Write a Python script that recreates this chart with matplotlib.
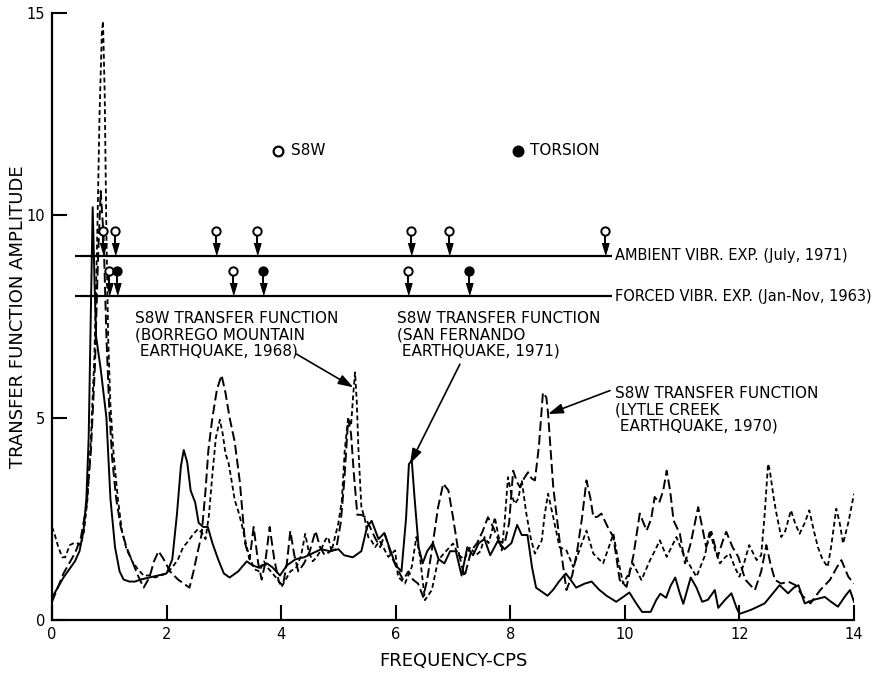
import matplotlib
matplotlib.use("Agg")
import matplotlib.pyplot as plt

plt.rcParams['font.family'] = ['DejaVu Sans']
plt.rcParams['lines.scale_dashes'] = False

# --- S8W transfer function, San Fernando earthquake 1971 (solid) ---
sf_x = [0.0, 0.1, 0.2, 0.3, 0.4, 0.48, 0.55, 0.6, 0.64, 0.67, 0.71, 0.74, 0.77, 0.85, 0.95,
        1.02, 1.1, 1.18, 1.25, 1.35, 1.45, 1.55, 1.7, 1.85, 2.0, 2.1, 2.18, 2.25, 2.3, 2.36,
        2.42, 2.5, 2.56, 2.64, 2.72, 2.8, 2.9, 3.0, 3.1, 3.25, 3.4, 3.5, 3.6, 3.75, 3.85,
        3.98, 4.1, 4.25, 4.4, 4.55, 4.7, 4.85, 5.0, 5.1, 5.25, 5.4, 5.5, 5.58, 5.7, 5.8,
        5.9, 6.0, 6.1, 6.18, 6.23, 6.28, 6.33, 6.4, 6.47, 6.55, 6.65, 6.75, 6.85, 6.95, 7.05,
        7.15, 7.25, 7.35, 7.45, 7.55, 7.65, 7.78, 7.9, 8.02, 8.12, 8.2, 8.3, 8.38, 8.45, 8.55,
        8.65, 8.75, 8.85, 8.97, 9.05, 9.15, 9.3, 9.42, 9.55, 9.68, 9.85, 9.95, 10.08, 10.18, 10.3,
        10.45, 10.55, 10.62, 10.72, 10.8, 10.88, 10.95, 11.02, 11.1, 11.15, 11.25, 11.35, 11.45, 11.57, 11.63,
        11.75, 11.86, 11.95, 12.0, 12.2, 12.44, 12.58, 12.7, 12.85, 12.95, 13.03, 13.14, 13.3, 13.49, 13.6,
        13.72, 13.85, 13.93, 14.0]
sf_y = [0.55, 0.8, 1.05, 1.25, 1.45, 1.7, 2.2, 3.0, 4.5, 7.0, 10.2, 8.5, 7.0, 6.2, 5.0,
        3.0, 1.8, 1.2, 1.0, 0.95, 0.95, 1.0, 1.05, 1.1, 1.15, 1.5, 2.6, 3.8, 4.2, 3.9,
        3.2, 2.9, 2.4, 2.3, 2.3, 1.9, 1.5, 1.15, 1.05, 1.2, 1.45, 1.35, 1.3, 1.4, 1.3,
        1.1, 1.35, 1.5, 1.55, 1.65, 1.75, 1.7, 1.75, 1.6, 1.55, 1.7, 2.3, 2.45, 2.0, 2.15,
        1.75, 1.35, 1.2, 2.5, 3.85, 3.95, 3.0, 1.8, 1.4, 1.7, 1.9, 1.5, 1.4, 1.7, 1.7,
        1.1, 1.8, 1.6, 1.9, 2.0, 1.6, 1.95, 1.75, 1.9, 2.35, 2.1, 2.1, 1.3, 0.8, 0.7,
        0.6, 0.75, 0.95, 1.15, 1.0, 0.8, 0.9, 0.95, 0.75, 0.6, 0.45, 0.55, 0.68, 0.45, 0.2,
        0.2, 0.5, 0.65, 0.55, 0.85, 1.05, 0.7, 0.4, 0.8, 1.05, 0.8, 0.45, 0.5, 0.74, 0.3,
        0.5, 0.66, 0.3, 0.15, 0.25, 0.41, 0.65, 0.86, 0.66, 0.8, 0.86, 0.41, 0.5, 0.57, 0.45,
        0.33, 0.6, 0.74, 0.45]

# --- S8W transfer function, Lytle Creek earthquake 1970 (long dashes) ---
lc_x = [0.0, 0.1, 0.2, 0.3, 0.4, 0.5, 0.6, 0.68, 0.75, 0.8, 0.85, 0.9, 0.95, 1.0, 1.05,
        1.12, 1.2, 1.3, 1.4, 1.5, 1.6, 1.7, 1.78, 1.86, 1.95, 2.06, 2.2, 2.3, 2.4, 2.47,
        2.53, 2.61, 2.68, 2.73, 2.8, 2.88, 2.96, 3.03, 3.1, 3.19, 3.28, 3.37, 3.45, 3.52, 3.6,
        3.66, 3.72, 3.8, 3.88, 3.96, 4.03, 4.1, 4.16, 4.23, 4.3, 4.4, 4.5, 4.6, 4.68, 4.76,
        4.86, 4.96, 5.04, 5.1, 5.17, 5.22, 5.27, 5.33, 5.4, 5.46, 5.55, 5.65, 5.73, 5.81, 5.93,
        6.04, 6.13, 6.22, 6.3, 6.39, 6.48, 6.55, 6.63, 6.74, 6.83, 6.92, 7.0, 7.09, 7.2, 7.32,
        7.42, 7.52, 7.61, 7.7, 7.8, 7.9, 7.98, 8.05, 8.12, 8.17, 8.24, 8.31, 8.37, 8.43, 8.5,
        8.57, 8.63, 8.66, 8.75, 8.86, 8.98, 9.08, 9.16, 9.25, 9.33, 9.4, 9.45, 9.52, 9.59, 9.7,
        9.8, 9.91, 10.03, 10.15, 10.26, 10.38, 10.46, 10.52, 10.6, 10.67, 10.73, 10.79, 10.85, 10.96, 11.05,
        11.15, 11.28, 11.42, 11.51, 11.62, 11.72, 11.77, 11.88, 11.98, 12.1, 12.27, 12.38, 12.47, 12.54, 12.62,
        12.73, 12.85, 12.98, 13.1, 13.24, 13.41, 13.58, 13.7, 13.78, 13.9, 14.0]
lc_y = [0.45, 0.8, 1.15, 1.4, 1.65, 2.0, 2.8, 4.2, 6.3, 8.8, 10.6, 9.5, 7.0, 5.2, 4.0,
        3.0, 2.3, 1.8, 1.45, 1.1, 0.8, 1.05, 1.45, 1.7, 1.5, 1.2, 1.0, 0.9, 0.8, 1.2,
        1.6, 2.1, 3.2, 4.2, 5.0, 5.7, 6.05, 5.6, 5.0, 4.4, 3.4, 1.9, 1.5, 2.3, 1.4,
        1.0, 1.4, 2.3, 1.5, 0.95, 0.85, 1.4, 2.2, 1.6, 1.2, 1.4, 1.7, 2.2, 1.8, 1.6,
        1.7, 1.75, 2.4, 3.4, 4.97, 4.6, 3.6, 2.6, 2.6, 2.55, 2.3, 2.0, 1.8, 2.13, 1.56,
        1.23, 0.99, 1.2, 1.0, 0.9, 0.57, 1.0, 1.72, 2.79, 3.37, 3.2, 2.54, 1.72, 1.07, 1.72,
        1.9, 2.2, 2.54, 2.3, 1.95, 1.89, 2.4, 3.69, 3.4, 3.28, 3.5, 3.65, 3.5, 3.45, 4.3,
        5.62, 5.5, 5.09, 3.28, 1.97, 0.74, 1.1, 1.64, 2.5, 3.45, 3.0, 2.54, 2.55, 2.63, 2.3,
        2.05, 0.99, 0.82, 1.6, 2.63, 2.21, 2.5, 3.04, 2.9, 3.2, 3.69, 3.2, 2.46, 2.13, 1.4,
        1.9, 2.79, 1.8, 2.18, 1.56, 2.0, 2.18, 1.8, 1.56, 1.0, 0.74, 1.2, 1.85, 1.4, 0.99,
        0.9, 0.95, 0.86, 0.6, 0.41, 0.74, 0.99, 1.3, 1.48, 1.07, 0.9]

# --- S8W transfer function, Borrego Mountain earthquake 1968 (short dashes) ---
bm_x = [0.0, 0.05, 0.11, 0.18, 0.23, 0.31, 0.38, 0.43, 0.5, 0.56, 0.62, 0.68, 0.74, 0.79, 0.83,
        0.87, 0.89, 0.92, 0.95, 0.98, 1.02, 1.08, 1.15, 1.22, 1.3, 1.4, 1.5, 1.6, 1.7, 1.8,
        1.9, 2.0, 2.1, 2.2, 2.29, 2.38, 2.47, 2.55, 2.62, 2.68, 2.74, 2.8, 2.86, 2.93, 2.98,
        3.03, 3.08, 3.14, 3.19, 3.25, 3.31, 3.4, 3.46, 3.54, 3.62, 3.7, 3.76, 3.85, 3.94, 4.01,
        4.08, 4.16, 4.27, 4.35, 4.42, 4.48, 4.55, 4.62, 4.7, 4.78, 4.82, 4.88, 4.94, 5.0, 5.06,
        5.11, 5.17, 5.22, 5.26, 5.29, 5.32, 5.35, 5.4, 5.46, 5.52, 5.58, 5.64, 5.72, 5.8, 5.87,
        5.99, 6.04, 6.16, 6.28, 6.36, 6.42, 6.51, 6.63, 6.74, 6.89, 7.0, 7.1, 7.2, 7.3, 7.4,
        7.48, 7.55, 7.62, 7.68, 7.73, 7.79, 7.85, 7.9, 7.96, 8.02, 8.08, 8.14, 8.2, 8.28, 8.36,
        8.43, 8.55, 8.6, 8.66, 8.75, 8.86, 8.98, 9.1, 9.2, 9.33, 9.45, 9.62, 9.72, 9.8, 9.88,
        9.97, 10.05, 10.14, 10.29, 10.44, 10.52, 10.61, 10.73, 10.9, 11.0, 11.08, 11.25, 11.4, 11.48, 11.58,
        11.66, 11.75, 11.83, 11.92, 12.0, 12.08, 12.17, 12.3, 12.38, 12.44, 12.5, 12.53, 12.6, 12.65, 12.73,
        12.8, 12.9, 12.97, 13.05, 13.14, 13.22, 13.3, 13.37, 13.45, 13.54, 13.6, 13.69, 13.75, 13.81, 13.9,
        14.0]
bm_y = [2.3, 2.1, 1.8, 1.55, 1.55, 1.85, 1.9, 1.9, 1.85, 2.2, 3.0, 4.5, 6.5, 9.5, 12.5,
        14.5, 14.8, 13.0, 9.5, 7.0, 5.3, 4.0, 3.0, 2.2, 1.75, 1.45, 1.25, 1.1, 1.1, 1.05,
        1.1, 1.15, 1.3, 1.5, 1.8, 1.95, 2.13, 2.25, 2.15, 2.0, 2.6, 3.6, 4.5, 4.95, 4.6,
        4.1, 3.9, 3.4, 2.96, 2.7, 2.38, 1.8, 1.5, 1.25, 1.2, 1.45, 1.3, 1.15, 1.0, 0.82,
        1.0, 1.2, 1.31, 1.6, 2.13, 1.7, 1.45, 1.55, 1.75, 2.0, 2.05, 1.7, 2.05, 2.4, 2.96,
        4.19, 5.0, 4.8, 5.6, 6.12, 5.4, 4.19, 2.8, 2.5, 2.05, 1.95, 1.8, 1.95, 1.75, 1.56,
        1.72, 1.07, 0.9, 1.31, 2.05, 1.6, 0.49, 0.74, 1.48, 1.72, 1.89, 1.6, 1.5, 1.8, 1.6,
        1.7, 2.05, 1.9, 2.2, 2.54, 2.1, 1.72, 2.4, 3.53, 3.1, 2.87, 3.0, 3.45, 2.63, 2.0,
        1.64, 1.97, 2.6, 3.12, 2.54, 1.8, 1.72, 1.31, 1.7, 2.21, 1.64, 1.4, 1.8, 2.13, 1.5,
        0.9, 1.1, 1.4, 0.99, 1.48, 1.7, 1.97, 1.56, 2.05, 1.7, 1.48, 1.07, 1.6, 2.21, 1.7,
        1.4, 1.55, 1.64, 1.3, 1.07, 1.4, 1.85, 1.48, 1.6, 2.6, 3.86, 3.7, 3.0, 2.6, 2.05,
        2.2, 2.71, 2.4, 2.13, 2.4, 2.71, 2.2, 1.8, 1.5, 1.31, 1.8, 2.75, 2.4, 1.89, 2.4,
        3.12]

# Natural frequencies from vibration experiments
ambient_level = 9.0
forced_level = 8.0
exp_line_span = (0.4, 9.77)
ambient_s8w = [0.89, 1.1, 2.86, 3.58, 6.27, 6.93, 9.65]
forced_s8w = [1.0, 3.16, 6.21]
forced_torsion = [1.13, 3.68, 7.28]

x_ticks = [0, 2, 4, 6, 8, 10, 12, 14]
y_ticks = [0, 5, 10, 15]

fig = plt.figure(figsize=(8.79, 6.74), dpi=100)
ax = fig.add_axes([52 / 879, 54 / 674, 802 / 879, 607 / 674])
ax.set_xlim(0, 14)
ax.set_ylim(0, 15)
for side in ['top', 'right']:
    ax.spines[side].set_visible(False)
for side in ['left', 'bottom']:
    ax.spines[side].set_linewidth(1.6)
ax.set_xticks(x_ticks)
ax.set_yticks(y_ticks)
ax.tick_params(direction='in', length=11, width=1.5, labelsize=10.5, pad=5)

ax.set_xlabel('FREQUENCY-CPS', fontsize=13, va='center')
ax.xaxis.set_label_coords(0.5, -0.068)
ax.set_ylabel('TRANSFER FUNCTION AMPLITUDE', fontsize=13)
ax.yaxis.set_label_coords(-0.031, 0.5)

ax.plot(sf_x, sf_y, color='k', lw=1.4, solid_joinstyle='round')
ax.plot(lc_x, lc_y, color='k', lw=1.4, dashes=(7, 3))
ax.plot(bm_x, bm_y, color='k', lw=1.3, dashes=(3.5, 2.2))

# Experiment reference lines
ax.hlines([ambient_level, forced_level], exp_line_span[0], exp_line_span[1],
          color='k', lw=1.6)

arrow_marker = [(-0.3, 0.5), (0.3, 0.5), (0.0, -0.5)]


def freq_markers(xs, level, filled):
    ax.vlines(xs, level + 0.28, level + 0.54, color='k', lw=1.4)
    ax.plot(xs, [level + 0.17] * len(xs), ls='none', marker=arrow_marker,
            ms=8.6, mfc='k', mec='k', mew=0.8)
    ax.plot(xs, [level + 0.62] * len(xs), ls='none', marker='o', ms=6,
            mfc='k' if filled else 'w', mec='k', mew=1.4)


freq_markers(ambient_s8w, ambient_level, False)
freq_markers(forced_s8w, forced_level, False)
freq_markers(forced_torsion, forced_level, True)

ax.text(exp_line_span[1] + 0.05, ambient_level, 'AMBIENT VIBR. EXP. (July, 1971)',
        va='center', ha='left', fontsize=10.5)
ax.text(exp_line_span[1] + 0.05, forced_level, 'FORCED VIBR. EXP. (Jan-Nov, 1963)',
        va='center', ha='left', fontsize=10.5)

# Symbol key
ax.plot([3.95], [11.6], ls='none', marker='o', ms=7, mfc='w', mec='k', mew=1.6)
ax.text(4.17, 11.6, 'S8W', va='center', ha='left', fontsize=11)
ax.plot([8.13], [11.6], ls='none', marker='o', ms=7, mfc='k', mec='k', mew=1.6)
ax.text(8.35, 11.6, 'TORSION', va='center', ha='left', fontsize=11)

# Curve callouts
arrow_kw = dict(arrowstyle='-|>,head_length=0.9,head_width=0.3', color='k', lw=1.2,
                shrinkA=0, shrinkB=0, mutation_scale=10)

ax.text(1.45, 7.64, 'S8W TRANSFER FUNCTION\n(BORREGO MOUNTAIN\n EARTHQUAKE, 1968)',
        va='top', ha='left', fontsize=11, linespacing=1.12)
ax.annotate('', xy=(5.26, 5.75), xytext=(4.27, 6.57), arrowprops=arrow_kw)

ax.text(6.02, 7.64, 'S8W TRANSFER FUNCTION\n(SAN FERNANDO\n EARTHQUAKE, 1971)',
        va='top', ha='left', fontsize=11, linespacing=1.12)
ax.annotate('', xy=(6.25, 3.86), xytext=(7.12, 6.32), arrowprops=arrow_kw)

ax.text(9.83, 5.79, 'S8W TRANSFER FUNCTION\n(LYTLE CREEK\n EARTHQUAKE, 1970)',
        va='top', ha='left', fontsize=11, linespacing=1.12)
ax.annotate('', xy=(8.66, 5.09), xytext=(9.74, 5.67), arrowprops=arrow_kw)

fig.savefig('out.png', dpi=100)
